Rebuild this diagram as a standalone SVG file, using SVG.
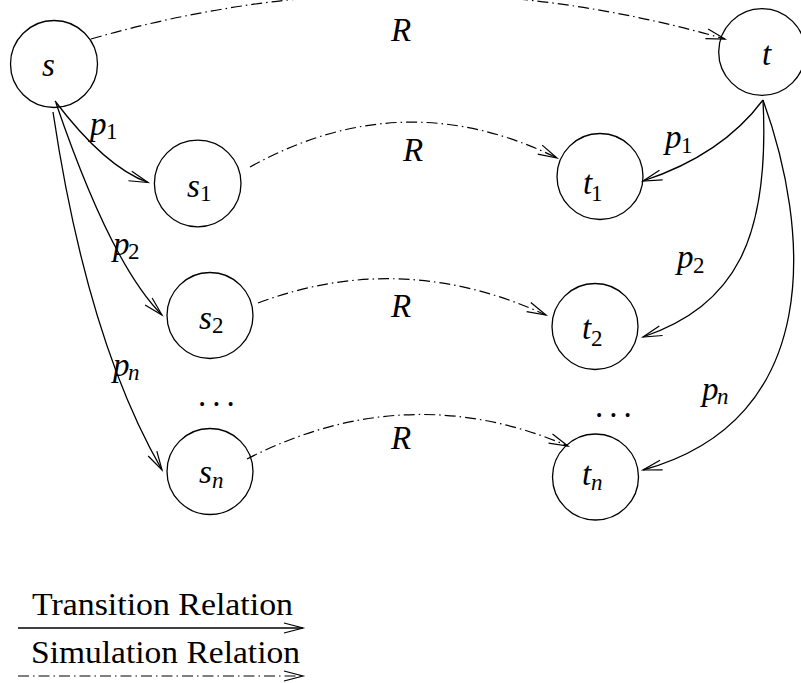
<svg xmlns="http://www.w3.org/2000/svg" width="801" height="683" viewBox="0 0 801 683">
<style>
.node circle{fill:none;stroke:#000;stroke-width:1.3}
.m{font-family:"Liberation Serif",serif;font-style:italic;font-size:33px;fill:#000}
.sub{font-family:"Liberation Serif",serif;font-size:23px;fill:#000}
.tr{fill:none;stroke:#000;stroke-width:1.3;marker-end:url(#ah)}
.sim{fill:none;stroke:#000;stroke-width:1.2;stroke-dasharray:11 4 1.5 4;marker-end:url(#ah)}
.leg{font-family:"Liberation Serif",serif;font-size:31px;fill:#000}
.dots{font-family:"Liberation Serif",serif;font-size:33px;letter-spacing:6px;fill:#000}
</style>
<defs>
<marker id="ah" markerUnits="userSpaceOnUse" markerWidth="22" markerHeight="12" refX="19" refY="5" orient="auto" overflow="visible">
<path d="M0,0 L19,5 L0,10" fill="none" stroke="#000" stroke-width="1.2" stroke-dasharray="none"/>
</marker>
</defs>
<rect width="801" height="683" fill="#fff"/>
<g id="connectors">
<path class="sim" d="M91,39 Q408,-52 725,39"/>
<path class="sim" d="M250,167 Q403,82 557,158"/>
<path class="sim" d="M258,303 Q402,249 546,315"/>
<path class="sim" d="M247,459 Q407,377 568,446"/>
<path class="tr" d="M55,101 Q105,167 148,182.5"/>
<path class="tr" d="M56,103 Q111,264 162,315"/>
<path class="tr" d="M53,112 Q87,340 162,470"/>
<path class="tr" d="M763,100 Q722,155 643,181"/>
<path class="tr" d="M763,100 C770,240 735,305 643,337"/>
<path class="tr" d="M763,100 C810,230 825,420 643,470"/>
</g>
<g id="s" class="node"><circle cx="54" cy="64" r="43.5"/><text class="m" x="42" y="76">s</text></g>
<g id="t" class="node"><circle cx="762" cy="52" r="43.3"/><text class="m" x="762" y="65">t</text></g>
<g id="s1" class="node"><circle cx="197.7" cy="183.5" r="43.3"/><text class="m" x="187" y="197">s</text><text class="sub" x="200" y="201">1</text></g>
<g id="t1" class="node"><circle cx="600" cy="176.5" r="43"/><text class="m" x="583" y="194">t</text><text class="sub" x="591" y="201">1</text></g>
<g id="s2" class="node"><circle cx="210" cy="315.5" r="43"/><text class="m" x="199" y="329">s</text><text class="sub" x="212" y="333">2</text></g>
<g id="t2" class="node"><circle cx="595" cy="326.5" r="43"/><text class="m" x="582" y="339">t</text><text class="sub" x="591" y="346">2</text></g>
<g id="sn" class="node"><circle cx="210" cy="471.5" r="43"/><text class="m" x="199" y="483">s</text><text class="sub" x="212" y="488" font-style="italic">n</text></g>
<g id="tn" class="node"><circle cx="595.5" cy="477" r="43"/><text class="m" x="582" y="485">t</text><text class="sub" x="591" y="490" font-style="italic">n</text></g>
<g id="labels">
<text class="m" x="391" y="41">R</text>
<text class="m" x="403" y="161">R</text>
<text class="m" x="391" y="317">R</text>
<text class="m" x="391" y="449">R</text>
<text class="m" x="90" y="135">p</text><text class="sub" x="106" y="139">1</text>
<text class="m" x="113" y="255">p</text><text class="sub" x="128" y="259">2</text>
<text class="m" x="113" y="376">p</text><text class="sub" x="128" y="380" font-style="italic">n</text>
<text class="m" x="665" y="148">p</text><text class="sub" x="681" y="153">1</text>
<text class="m" x="677" y="268">p</text><text class="sub" x="693" y="273">2</text>
<text class="m" x="702" y="400">p</text><text class="sub" x="717" y="404" font-style="italic">n</text>
<text class="dots" x="198" y="406">...</text>
<text class="dots" x="595" y="417">...</text>
</g>
<g id="legend">
<text class="leg" x="32" y="615" textLength="261" lengthAdjust="spacingAndGlyphs">Transition Relation</text>
<path class="tr" d="M18,628 L303,628"/>
<text class="leg" x="31" y="663" textLength="269" lengthAdjust="spacingAndGlyphs">Simulation Relation</text>
<path class="sim" d="M18,676 L303,676"/>
</g>
</svg>
